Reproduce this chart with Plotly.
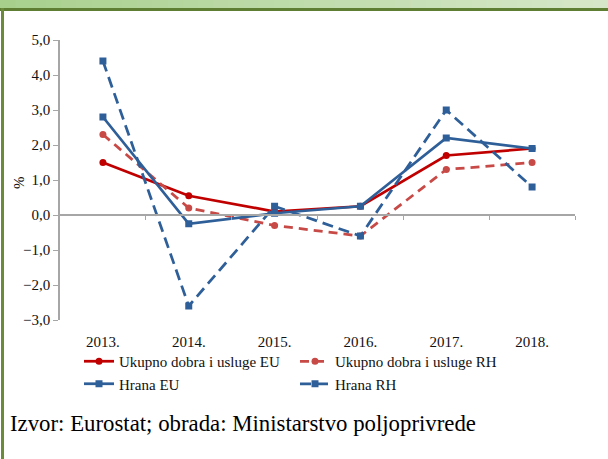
import plotly.graph_objects as go

# ---- data ----
years = ["2013.", "2014.", "2015.", "2016.", "2017.", "2018."]
ukupno_eu = [1.5, 0.55, 0.1, 0.25, 1.7, 1.9]
ukupno_rh = [2.3, 0.2, -0.3, -0.6, 1.3, 1.5]
hrana_eu = [2.8, -0.25, 0.05, 0.25, 2.2, 1.9]
hrana_rh = [4.4, -2.6, 0.25, -0.6, 3.0, 0.8]
y_min, y_max = -3, 5
y_tickvals = list(range(y_min, y_max + 1))
source_text = "Izvor: Eurostat; obrada: Ministarstvo poljoprivrede"

# ---- layout geometry ----
W, H = 608, 459
L, R, T, B = 60, 33, 40, 139
PW, PH = W - L - R, H - T - B


def px(x):
    return (x - L) / PW


def py(y):
    return (H - B - y) / PH


FONT = "Liberation Serif"
RED = "#C00000"
RED2 = "#C84A47"
BLUE = "#2F5F98"
BLUE2 = "#2F5F98"

fig = go.Figure()
fig.add_trace(go.Scatter(x=years, y=ukupno_eu, name="Ukupno dobra i usluge EU",
                         mode="lines+markers", line=dict(color=RED, width=2.75),
                         marker=dict(symbol="circle", size=7, color=RED)))
fig.add_trace(go.Scatter(x=years, y=ukupno_rh, name="Ukupno dobra i usluge RH",
                         mode="lines+markers", line=dict(color=RED2, width=2.75, dash="9px,6px"),
                         marker=dict(symbol="circle", size=7, color=RED2)))
fig.add_trace(go.Scatter(x=years, y=hrana_eu, name="Hrana EU",
                         mode="lines+markers", line=dict(color=BLUE, width=2.75),
                         marker=dict(symbol="square", size=7, color=BLUE)))
fig.add_trace(go.Scatter(x=years, y=hrana_rh, name="Hrana RH",
                         mode="lines+markers", line=dict(color=BLUE2, width=2.75, dash="11px,6px"),
                         marker=dict(symbol="square", size=7, color=BLUE2)))
# helper trace so the zero-line axis (x2) is drawn
n = len(years)
fig.add_trace(go.Scatter(x=list(range(n)), y=[None] * n, xaxis="x2", showlegend=False,
                         hoverinfo="skip", mode="lines"))

shapes = []
# header gradient band
c0 = (168, 208, 141)
c1 = (214, 231, 201)
steps = 40
for i in range(steps):
    t = i / (steps - 1)
    c = tuple(int(round(c0[k] + (c1[k] - c0[k]) * t)) for k in range(3))
    shapes.append(dict(type="rect", xref="paper", yref="paper",
                       x0=px(W * i / steps), x1=px(W * (i + 1) / steps + 1),
                       y0=py(8), y1=py(0), fillcolor="rgb(%d,%d,%d)" % c,
                       line=dict(width=0)))
# dark line under header
shapes.append(dict(type="rect", xref="paper", yref="paper", x0=px(0), x1=px(W),
                   y0=py(11), y1=py(8), fillcolor="#5E7E33", line=dict(width=0)))
# left border
shapes.append(dict(type="rect", xref="paper", yref="paper", x0=px(1), x1=px(4),
                   y0=py(H), y1=py(8), fillcolor="#6B8A3A", line=dict(width=0)))

fig.update_layout(
    width=W, height=H,
    margin=dict(l=L, r=R, t=T, b=B),
    paper_bgcolor="white", plot_bgcolor="white",
    separators=", ",
    font=dict(family=FONT, size=15, color="#111"),
    showlegend=True,
    legend=dict(orientation="h", x=px(79), y=py(345), xanchor="left", yanchor="top",
                entrywidth=171, entrywidthmode="pixels", font=dict(size=15, family=FONT),
                tracegroupgap=0, itemwidth=30, bgcolor="rgba(0,0,0,0)"),
    xaxis=dict(type="category", categoryarray=years, range=[-0.5, n - 0.5],
               showline=False, showgrid=False, zeroline=False, ticks="",
               tickfont=dict(size=15, family=FONT, color="#111"), ticklabelstandoff=11),
    xaxis2=dict(overlaying="x", anchor="free", position=(0 - y_min) / (y_max - y_min),
                range=[-0.5, n - 0.5], tickmode="array",
                tickvals=[i + 0.5 for i in range(n)], ticks="outside", ticklen=4,
                tickcolor="#A6A6A6", showticklabels=False, showline=True,
                linecolor="#A6A6A6", linewidth=1.5, showgrid=False, zeroline=False),
    yaxis=dict(range=[y_min, y_max], tickmode="array", tickvals=y_tickvals,
               tickformat=".1f", showline=True, linecolor="#A6A6A6", linewidth=1.5,
               ticks="outside", ticklen=5, tickcolor="#A6A6A6", showgrid=False,
               zeroline=False, tickfont=dict(size=15, family=FONT, color="#111")),
    shapes=shapes,
    annotations=[
        dict(text="%", x=px(19), y=py(183), xref="paper", yref="paper", showarrow=False,
             textangle=-90, font=dict(size=15, family=FONT, color="#111"),
             xanchor="center", yanchor="middle"),
        dict(text=source_text, x=px(8), y=py(423), xref="paper", yref="paper",
             showarrow=False, xanchor="left", yanchor="middle",
             font=dict(size=22.8, family=FONT, color="#000")),
    ],
)

fig.write_html("out.html", config={"displayModeBar": False},
               post_script="document.body.style.margin='0';document.body.style.padding='0';")
